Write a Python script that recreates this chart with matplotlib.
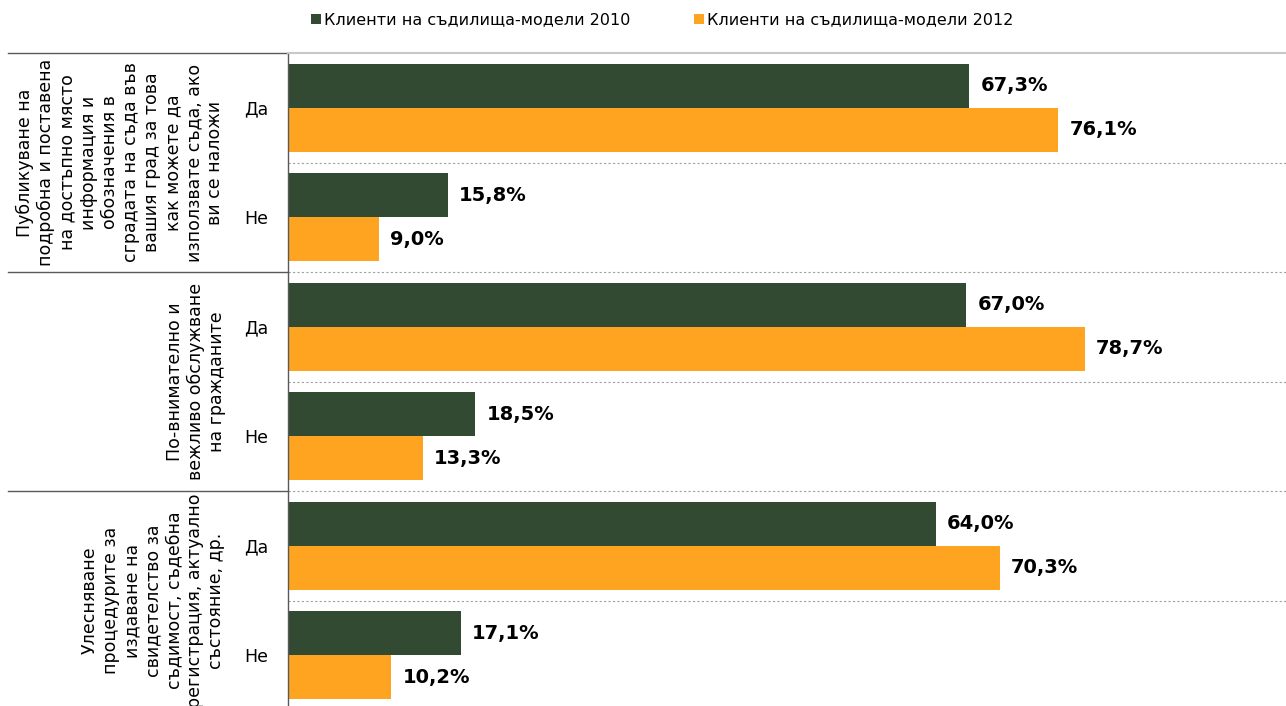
import numpy as np
import matplotlib
matplotlib.use('Agg')
import matplotlib.pyplot as plt

# data
groups = ['Публикуване на\nподробна и поставена\nна достъпно място\nинформация и\nобозначения в\nсградата на съда във\nвашия град за това\nкак можете да\nизползвате съда, ако\nви се наложи',
          'По-внимателно и\nвежливо обслужване\nна гражданите',
          'Улесняване\nпроцедурите за\nиздаване на\nсвидетелство за\nсъдимост, съдебна\nрегистрация, актуално\nсъстояние, др.']
answers = ['Да', 'Не']
series_names = ['Клиенти на съдилища-модели 2010', 'Клиенти на съдилища-модели 2012']
vals_2010 = [67.3, 15.8, 67.0, 18.5, 64.0, 17.1]
vals_2012 = [76.1, 9.0, 78.7, 13.3, 70.3, 10.2]

dark = '#334a32'
orange = '#ffa421'

W, H = 1286, 706
fig = plt.figure(figsize=(W / 100, H / 100), dpi=100)
ax = fig.add_axes([288 / W, 0, 998 / W, (H - 53) / H])

n = len(vals_2010)
ypos = np.arange(n)[::-1] + 0.5
bh = 0.4
b1 = ax.barh(ypos + bh / 2, vals_2010, height=bh, color=dark, label=series_names[0])
b2 = ax.barh(ypos - bh / 2, vals_2012, height=bh, color=orange, label=series_names[1])

for bars, vals in ((b1, vals_2010), (b2, vals_2012)):
    for rect, v in zip(bars, vals):
        ax.annotate(f'{v:.1f}%'.replace('.', ','),
                    (rect.get_width(), rect.get_y() + rect.get_height() / 2),
                    xytext=(8, 0), textcoords='offset points',
                    ha='left', va='center', fontsize=14, fontweight='bold', color='black')

ax.set_xlim(0, 98.6)
ax.set_ylim(0.037, 6)
ax.set_xticks([])
ax.set_yticks(ypos)
ax.set_yticklabels(answers * len(groups), fontsize=12.5)
ax.tick_params(axis='y', length=0, pad=14)

for s in ['right', 'bottom']:
    ax.spines[s].set_visible(False)
ax.spines['top'].set_color('#c8c8c8')
ax.spines['top'].set_linewidth(1.5)
ax.spines['left'].set_color('#595959')
ax.spines['left'].set_linewidth(1)

# dotted separators between categories
for y in range(1, n):
    ax.axhline(y, color='#a0a0a0', lw=0.8, ls=(0, (2, 2)), zorder=0)

# solid separators for the group labels area
x0 = (8 - 288) / 998
for y in [6, 4, 2]:
    ax.plot([x0, 0], [y, y], color='#595959', lw=1, transform=ax.get_yaxis_transform(), clip_on=False)

# group labels, rotated
label_x = [120, 196, 153]
for i, (g, lx) in enumerate(zip(groups, label_x)):
    yc = 6 - 2 * i - 1
    ax.text((lx - 288) / 998, yc, g, rotation=90, ha='center', va='center',
            multialignment='center', fontsize=12.5, linespacing=1.22,
            transform=ax.get_yaxis_transform())

fig.legend(handles=[b1, b2], loc='center', bbox_to_anchor=(0.515, 1 - 20 / H), ncol=2,
           frameon=False, fontsize=11.5, handlelength=0.6, handleheight=0.6,
           handletextpad=0.2, columnspacing=4)

fig.savefig('out.png', dpi=100)
